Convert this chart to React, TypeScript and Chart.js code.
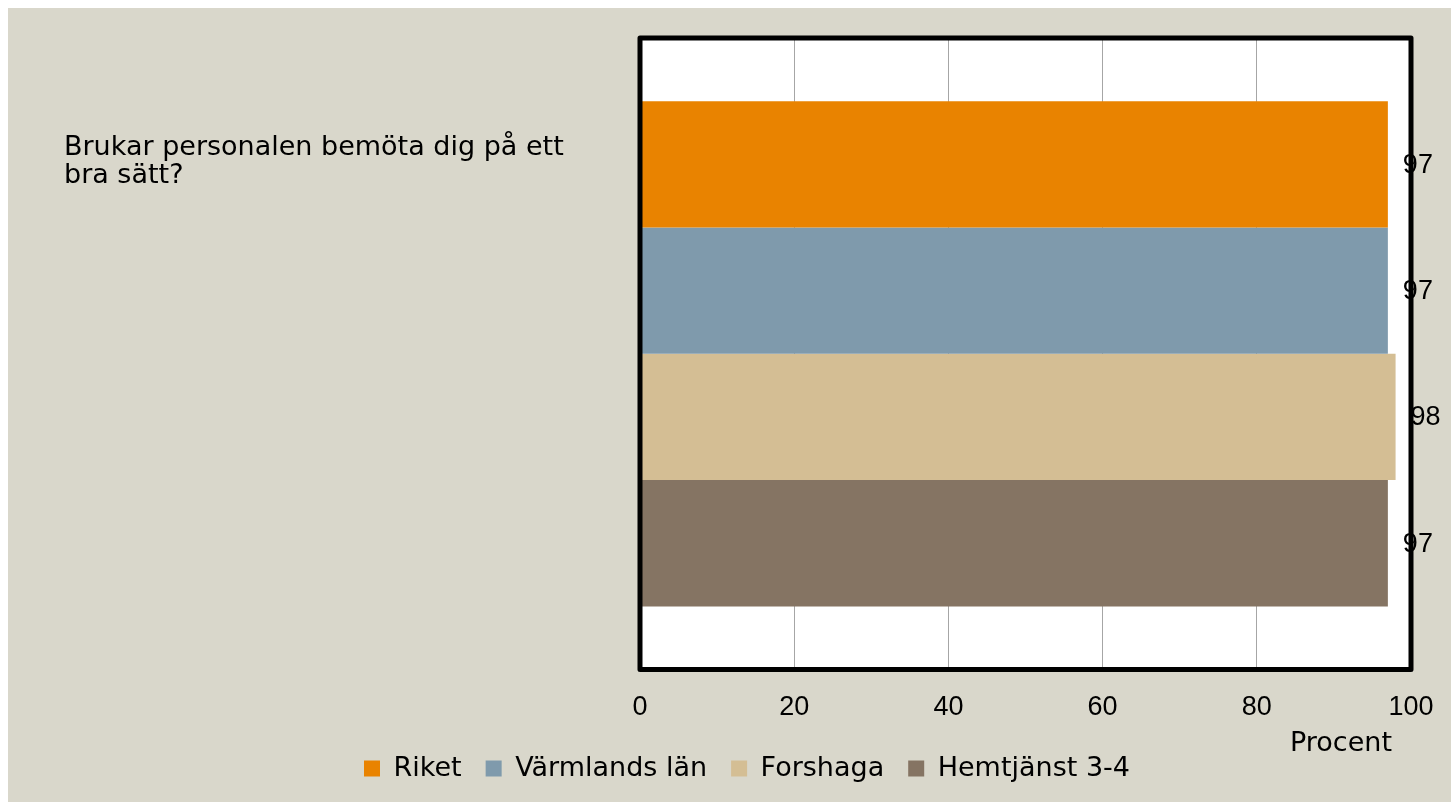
import React, { useEffect, useRef } from 'react';
import { Chart, registerables } from 'chart.js';

Chart.register(...registerables);

// ---- data ----
const categoryLines: string[] = ['Brukar personalen bemöta dig på ett', 'bra sätt?'];
const seriesNames: string[] = ['Riket', 'Värmlands län', 'Forshaga', 'Hemtjänst 3-4'];
const riketValues: number[] = [97];
const varmlandValues: number[] = [97];
const forshagaValues: number[] = [98];
const hemtjanstValues: number[] = [97];
const seriesColors: string[] = ['#E98300', '#7F9AAC', '#D4BE94', '#857463'];
const xTickValues: number[] = [0, 20, 40, 60, 80, 100];
const axisTitle = 'Procent';

const TEXT_FONT = '"DejaVu Sans", sans-serif';
const NUM_FONT = '"Liberation Sans", Arial, sans-serif';
const FS = 27;

const framePlugin = {
  id: 'framePlugin',
  beforeDraw(chart: any) {
    const { ctx, chartArea: a } = chart;
    ctx.save();
    ctx.fillStyle = '#FFFFFF';
    ctx.fillRect(a.left, a.top, a.right - a.left, a.bottom - a.top);
    ctx.restore();
  },
  afterDatasetsDraw(chart: any) {
    const { ctx, chartArea: a } = chart;
    ctx.save();
    ctx.strokeStyle = '#000000';
    ctx.lineWidth = 5;
    ctx.lineJoin = 'round';
    ctx.strokeRect(a.left, a.top, a.right - a.left, a.bottom - a.top);
    ctx.restore();
  },
  afterDraw(chart: any) {
    const { ctx } = chart;
    ctx.save();
    // value labels
    ctx.fillStyle = '#000000';
    ctx.font = `${FS}px ${NUM_FONT}`;
    ctx.textAlign = 'left';
    ctx.textBaseline = 'middle';
    chart.data.datasets.forEach((ds: any, i: number) => {
      const meta = chart.getDatasetMeta(i);
      meta.data.forEach((bar: any, j: number) => {
        ctx.fillText(String(ds.data[j]), bar.x + 15, bar.y + 1);
      });
    });
    // category label, aligned with first bar like the original
    const first = chart.getDatasetMeta(0).data[0];
    ctx.font = `${FS}px ${TEXT_FONT}`;
    ctx.textBaseline = 'alphabetic';
    const lines: string[] = chart.data.labels[0];
    const lh = 28;
    lines.forEach((ln: string, k: number) => {
      ctx.fillText(ln, 56, first.y - 9.5 + k * lh);
    });
    // axis title
    const xs = chart.scales.x;
    ctx.textAlign = 'right';
    ctx.fillText(axisTitle, xs.right - 19, xs.bottom + 20);
    ctx.restore();
  },
};

export default function App() {
  const ref = useRef<HTMLCanvasElement | null>(null);
  useEffect(() => {
    if (!ref.current) return;
    const values = [riketValues, varmlandValues, forshagaValues, hemtjanstValues];
    const chart = new Chart(ref.current, {
      type: 'bar',
      data: {
        labels: [categoryLines],
        datasets: seriesNames.map((name, i) => ({
          label: name,
          data: values[i],
          backgroundColor: seriesColors[i],
          borderWidth: 0,
          categoryPercentage: 0.8,
          barPercentage: 1.0,
        })),
      },
      options: {
        indexAxis: 'y',
        animation: false,
        responsive: false,
        devicePixelRatio: 1,
        layout: { padding: { left: 75, right: 40, top: 30, bottom: 10 } },
        scales: {
          x: {
            min: 0,
            max: 100,
            afterBuildTicks: (s: any) => {
              s.ticks = xTickValues.map((v) => ({ value: v }));
            },
            afterFit: (s: any) => {
              s.height -= 15;
              s.paddingLeft = 0;
              s.paddingRight = 0;
            },
            ticks: {
              color: '#000000',
              font: { family: NUM_FONT, size: FS },
              padding: 22,
              maxRotation: 0,
            },
            grid: { color: '#A6A6A6', lineWidth: 1, drawTicks: false },
            border: { display: false },
          },
          y: {
            display: true,
            afterFit: (s: any) => {
              s.width = 557;
            },
            ticks: { display: false },
            grid: { display: false },
            border: { display: false },
          },
        },
        plugins: {
          legend: {
            position: 'bottom',
            labels: {
              boxWidth: 16,
              boxHeight: 16,
              padding: 24,
              color: '#000000',
              font: { family: TEXT_FONT, size: FS },
            },
          },
          tooltip: { enabled: false },
        },
      },
      plugins: [framePlugin],
    });
    return () => chart.destroy();
  }, []);
  return (
    <div
      style={{
        position: 'fixed',
        left: 8,
        top: 8,
        width: 1443,
        height: 794,
        background: '#D9D7CB',
        overflow: 'hidden',
      }}
    >
      <canvas ref={ref} width={1443} height={794} style={{ display: 'block' }} />
    </div>
  );
}
